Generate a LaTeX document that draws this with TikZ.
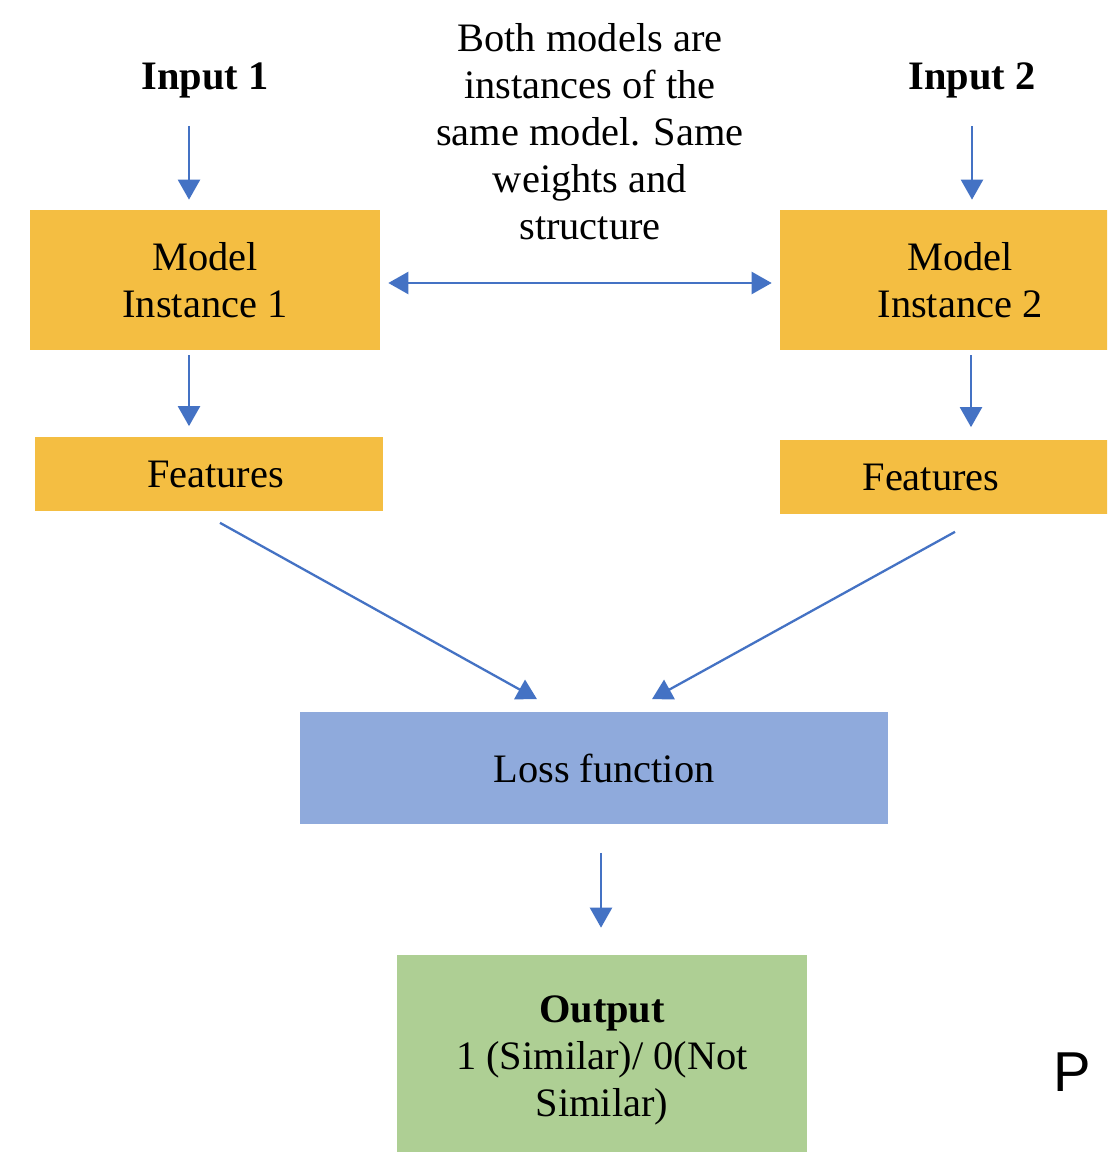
\documentclass[tikz,border=0pt]{standalone}
\usepackage{fontspec}
\setmainfont{Liberation Serif}
\newfontfamily\pfont{Liberation Sans}
\usetikzlibrary{arrows.meta}
\definecolor{boxgold}{HTML}{F4BE42}
\definecolor{boxblue}{HTML}{8FAADC}
\definecolor{boxgreen}{HTML}{AECF94}
\definecolor{arrowblue}{HTML}{4472C4}
\tikzset{box/.style={draw=none, inner sep=0pt, align=center},
         modelbox/.style={box, fill=boxgold, minimum height=2.8cm},
         featbox/.style={box, fill=boxgold, minimum height=1.5cm},
         plain/.style={inner sep=0pt, align=center},
         arr/.style={draw=arrowblue, line width=1.3pt, -{Triangle[length=0.4cm,width=0.44cm]}},
         dblarr/.style={arr, {Triangle[length=0.4cm,width=0.44cm]}-{Triangle[length=0.4cm,width=0.44cm]}}}

\begin{document}
\begin{tikzpicture}[x=0.02cm, y=-0.02cm, font=\fontsize{23}{26.7}\selectfont]
				\clip (0,0) rectangle (1107,1152);
				\fill[white] (0,0) rectangle (1107,1152);
				
				\node[plain] (in1) at (205,80) {\textbf{Input 1}};
				\node[plain] (in2) at (972,80) {\textbf{Input 2}};
				\node[plain] (note) at (590,132) {Both models are\\instances of the\\same model. Same\\weights and\\structure};
				
				\node[modelbox, minimum width=7cm] (m1) at (205,280) {Model\\Instance 1};
				\node[modelbox, minimum width=7.2cm] (m2) at (960,280) {Model\\Instance 2};
				\node[featbox, minimum width=6.96cm] (f1) at (209,474) {\hspace*{0.26cm}Features};
				\node[featbox, minimum width=6.6cm] (f2) at (945,477) {Features\hspace*{0.56cm}};
				\node[box, fill=boxblue, minimum width=11.76cm, minimum height=2.26cm] (loss) at (594,768) {\hspace*{0.4cm}Loss function};
				\node[box, fill=boxgreen, minimum width=8.22cm, minimum height=4.2cm] (out) at (602,1060) {\textbf{Output}\\1 (Similar)/ 0(Not\\Similar)};
				
				\node[plain] (p) at (1072,1072) {\pfont\fontsize{32}{36}\selectfont P};
				
				
				\draw[arr, shorten <=0.56cm, shorten >=0.2cm] ([xshift=-0.32cm]in1.south) -- ([xshift=-0.32cm]m1.north);
				\draw[arr, shorten <=0.56cm, shorten >=0.2cm] (in2.south) -- (in2.south |- m2.north);
				\draw[dblarr, shorten <=0.16cm, shorten >=0.16cm] ([yshift=-0.06cm]m1.east) -- ([yshift=-0.06cm]m2.west);
				\draw[arr, shorten <=0.1cm, shorten >=0.2cm] ([xshift=-0.32cm]m1.south) -- ([xshift=-0.32cm]m1.south |- f1.north);
				\draw[arr, shorten <=0.1cm, shorten >=0.24cm] ([xshift=0.22cm]m2.south) -- ([xshift=0.22cm]m2.south |- f2.north);
				\draw[arr] ([xshift=0.22cm,yshift=-0.22cm]f1.south) -- ([xshift=-1.14cm,yshift=0.24cm]loss.north);
				\draw[arr] ([xshift=0.2cm,yshift=-0.34cm]f2.south) -- ([xshift=1.16cm,yshift=0.24cm]loss.north);
				\draw[arr, shorten <=0.56cm, shorten >=0.54cm] ([xshift=0.14cm]loss.south) -- ([xshift=0.14cm]loss.south |- out.north);
			\end{tikzpicture}
\end{document}
